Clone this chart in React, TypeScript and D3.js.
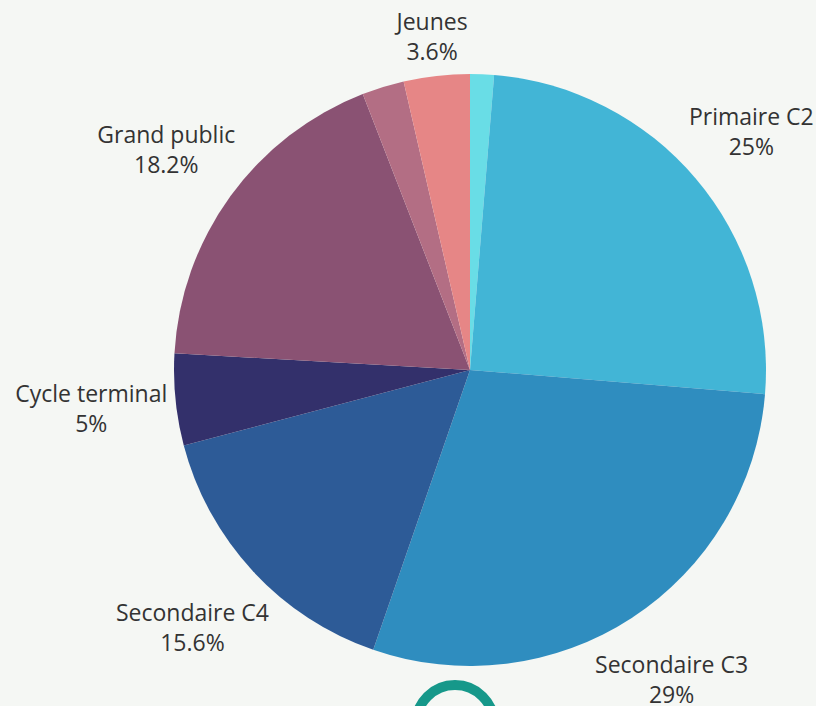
import React, { useRef, useEffect } from "react";
import * as d3 from "d3";

// slices clockwise from 12 o'clock
const names = ["", "Primaire C2", "Secondaire C3", "Secondaire C4", "Cycle terminal", "Grand public", "", "Jeunes"];
const values = [1.3, 25, 29, 15.6, 5, 18.2, 2.3, 3.6];
const colors = ["#69dde6", "#42b5d6", "#2f8dbf", "#2d5b97", "#33306b", "#8a5273", "#b36e84", "#e68686"];

const App = () => {
  const svgRef = useRef<SVGSVGElement>(null);
  const width = 816;
  const height = 706;
  const cx = 470;
  const cy = 370;
  const radius = 296;

  useEffect(() => {
    const svg = d3.select(svgRef.current);
    svg.selectAll("*").remove();

    svg.append("rect").attr("width", width).attr("height", height).attr("fill", "#f5f7f4");

    const data = names.map((n, i) => ({ name: n, value: values[i], color: colors[i] }));
    const pie = d3.pie<any>().sort(null).value((d) => d.value);
    const arc = d3.arc<any>().innerRadius(0).outerRadius(radius);
    const arcs = pie(data);

    const g = svg.append("g").attr("transform", `translate(${cx},${cy})`);
    g.selectAll("path")
      .data(arcs)
      .enter()
      .append("path")
      .attr("d", arc)
      .attr("fill", (d) => d.data.color);

    // outside labels, pushed out by the text box size
    const gap = 6;
    const lineGap = 15;
    arcs
      .filter((d) => d.data.name)
      .forEach((d) => {
        const t = svg
          .append("text")
          .attr("text-anchor", "middle")
          .style("font-family", "'Open Sans', sans-serif")
          .style("font-size", "23px")
          .style("fill", "#333");
        const l1 = t.append("tspan").attr("x", 0).attr("dominant-baseline", "central").text(d.data.name);
        const l2 = t.append("tspan").attr("x", 0).attr("dominant-baseline", "central").text(`${d.data.value}%`);
        const w = Math.max(
          (l1.node() as any).getComputedTextLength(),
          (l2.node() as any).getComputedTextLength()
        );
        const h = 60;
        const a = (d.startAngle + d.endAngle) / 2;
        const s = Math.sin(a);
        const c = Math.cos(a);
        const dist = radius + gap + Math.abs(s) * (w / 2) + Math.abs(c) * (h / 2);
        const x = cx + dist * s;
        const y = cy - dist * c;
        l1.attr("x", x).attr("y", y - lineGap);
        l2.attr("x", x).attr("y", y + lineGap);
      });

    // partially visible ring at the bottom
    svg
      .append("circle")
      .attr("cx", 455)
      .attr("cy", 724)
      .attr("r", 39)
      .attr("fill", "none")
      .attr("stroke", "#16988a")
      .attr("stroke-width", 10);
  }, []);

  return (
    <svg
      ref={svgRef}
      width={width}
      height={height}
      style={{ position: "absolute", left: 0, top: 0, display: "block" }}
    ></svg>
  );
};

export default App;
